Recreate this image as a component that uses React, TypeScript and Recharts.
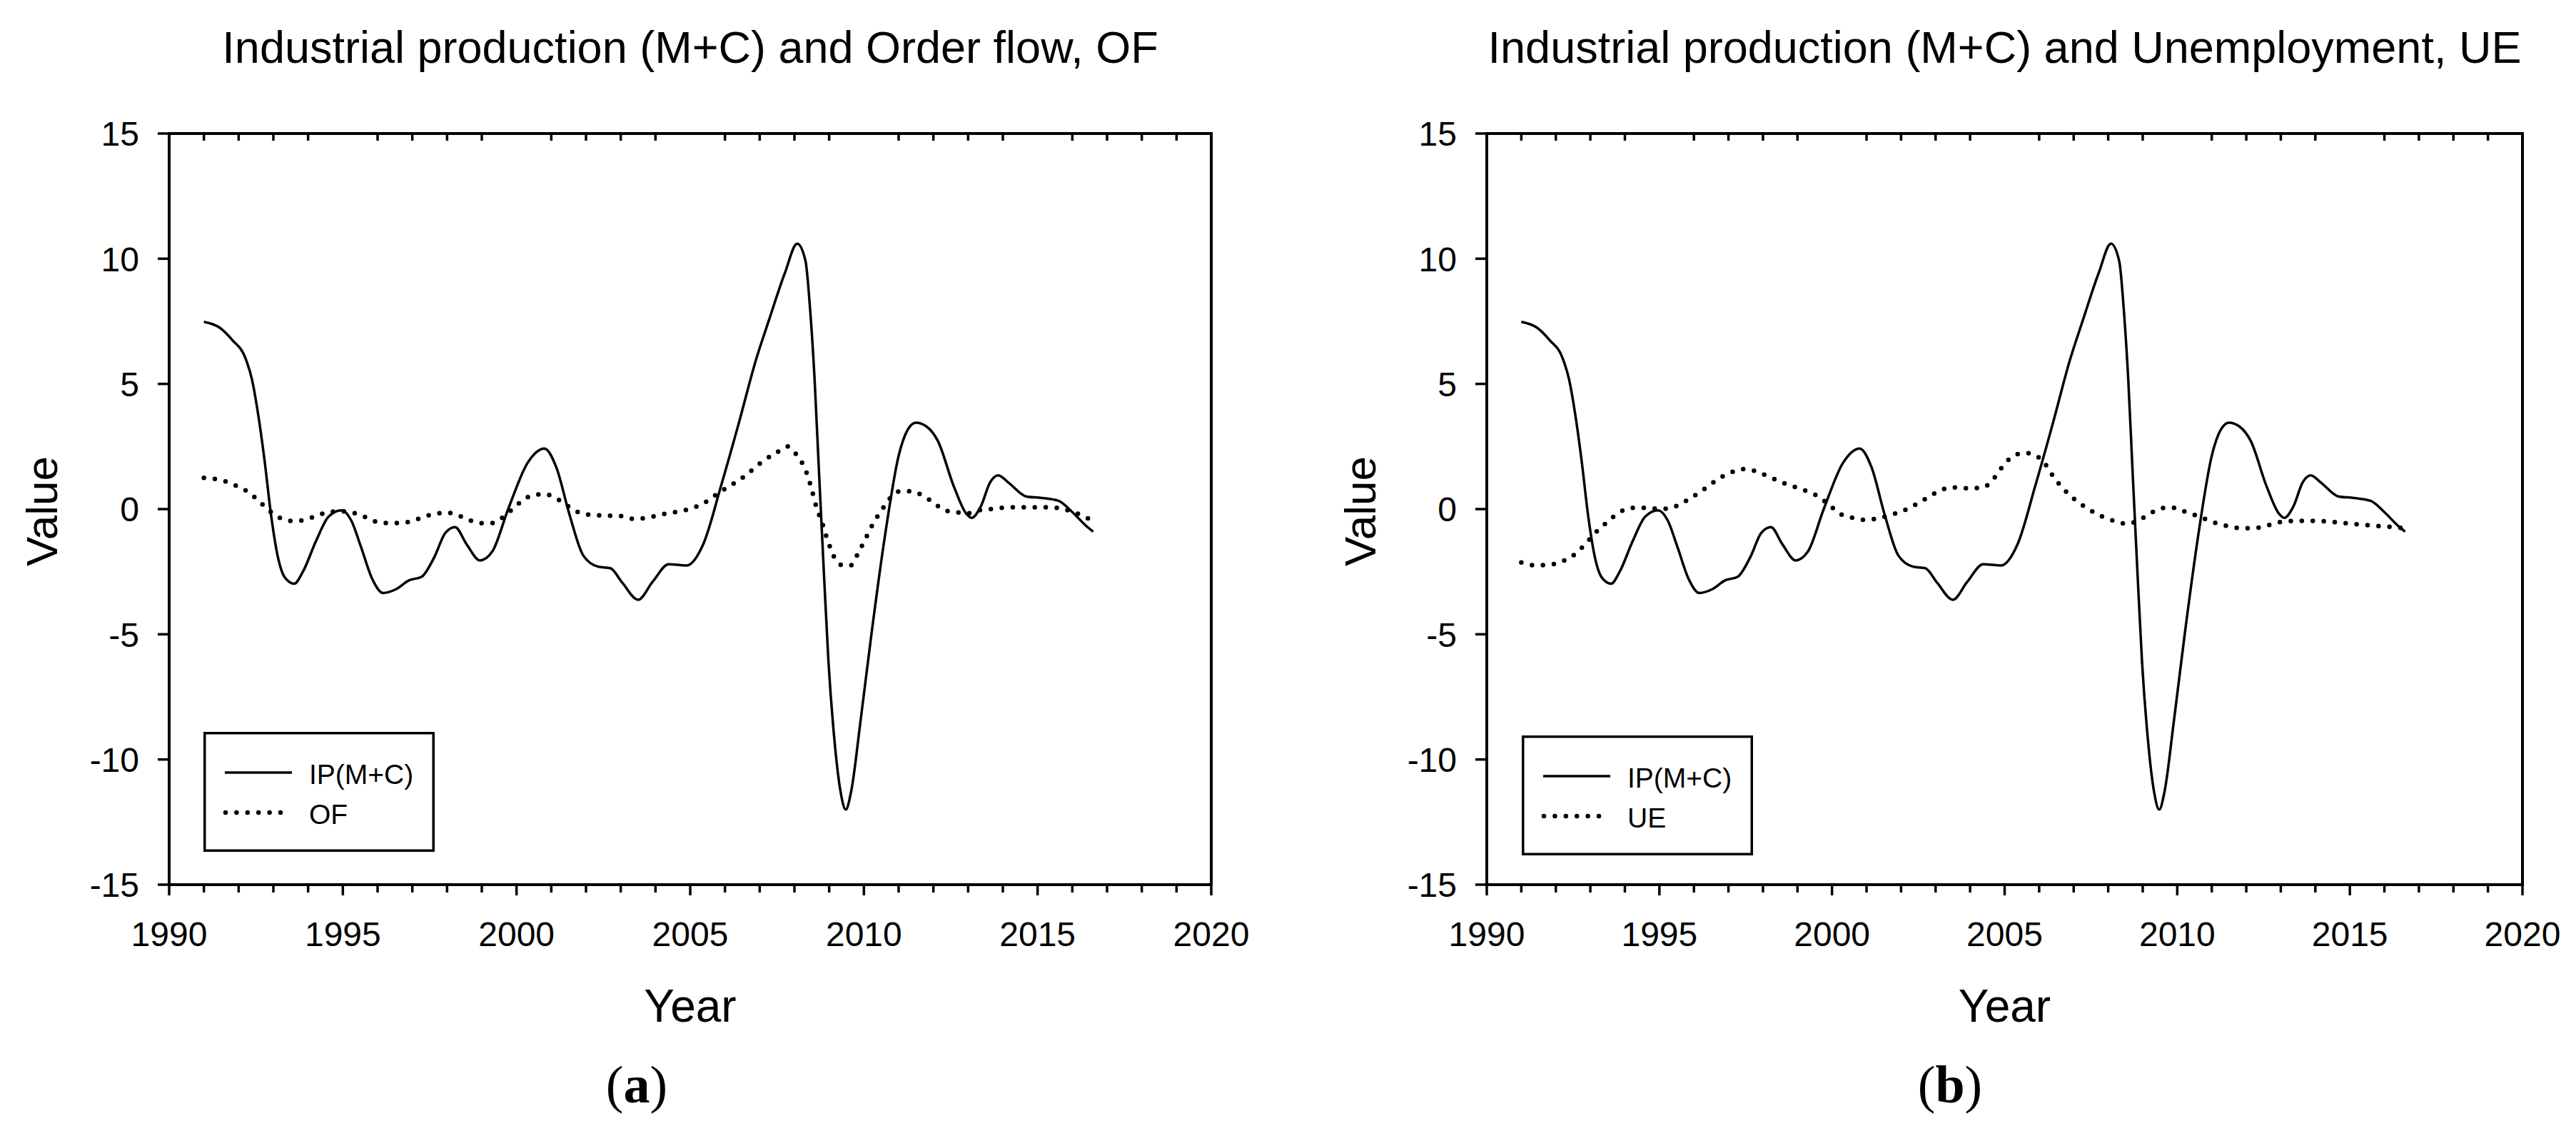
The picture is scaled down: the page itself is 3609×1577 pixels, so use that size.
import React from 'react';
import { LineChart, Line, XAxis, YAxis, Legend } from 'recharts';

const FONT = "'Liberation Sans', Arial, Helvetica, sans-serif";
const SERIF = "'Liberation Serif', 'Times New Roman', serif";

// ---------- data ----------
const yearTicks = [
  1990, 1991, 1992, 1993, 1994, 1995, 1996, 1997, 1998, 1999,
  2000, 2001, 2002, 2003, 2004, 2005, 2006, 2007, 2008, 2009,
  2010, 2011, 2012, 2013, 2014, 2015, 2016, 2017, 2018, 2019, 2020,
];
const valueTicks = [-15, -10, -5, 0, 5, 10, 15];

const titles = [
  'Industrial production (M+C) and Order flow, OF',
  'Industrial production (M+C) and Unemployment, UE',
];
const seriesNames = ['IP(M+C)', 'OF', 'UE'];
const captions = ['a', 'b'];
const xLabel = 'Year';
const yLabel = 'Value';

const ipYears = [
  1991.0, 1991.45, 1991.82, 1992.19, 1992.38, 1992.56, 1992.75, 1992.93, 1993.12, 1993.34,
  1993.6, 1993.85, 1994.22, 1994.59, 1994.96, 1995.24, 1995.52, 1995.85, 1996.16, 1996.53,
  1996.9, 1997.27, 1997.64, 1997.95, 1998.23, 1998.56, 1998.95, 1999.3, 1999.76, 2000.32,
  2000.8, 2001.15, 2001.52, 2001.92, 2002.35, 2002.7, 2003.05, 2003.5, 2003.92, 2004.38,
  2004.9, 2005.37, 2005.89, 2006.42, 2006.88, 2007.27, 2007.73, 2008.08, 2008.32, 2008.45,
  2008.58, 2008.71, 2008.85, 2008.98, 2009.15, 2009.33, 2009.48, 2009.63, 2009.9, 2010.22,
  2010.62, 2011.0, 2011.27, 2011.5, 2011.8, 2012.13, 2012.58, 2012.95, 2013.1, 2013.37,
  2013.63, 2013.87, 2014.16, 2014.68, 2015.08, 2015.6, 2016.0, 2016.39, 2016.6,
];
const ipValues = [
  7.48, 7.25, 6.75, 6.05, 5.2, 3.8, 1.9, -0.2, -1.85, -2.75,
  -2.98, -2.5, -1.3, -0.3, -0.05, -0.45, -1.5, -2.8, -3.35, -3.2,
  -2.85, -2.7, -1.9, -0.95, -0.72, -1.4, -2.05, -1.7, 0.0, 1.85,
  2.42, 1.65, -0.2, -1.85, -2.3, -2.36, -2.95, -3.62, -2.9, -2.2,
  -2.25, -1.42, 0.94, 3.54, 5.9, 7.56, 9.45, 10.6, 9.9, 8.0,
  5.2, 1.4, -2.6, -6.1, -9.2, -11.3, -12.0, -11.3, -8.5, -4.96,
  -0.94, 2.13, 3.19, 3.45, 3.3, 2.72, 0.94, -0.19, -0.35, 0.12,
  1.06, 1.35, 1.06, 0.5, 0.45, 0.33, -0.12, -0.66, -0.9,
];

const ofYears = [
  1991.0, 1991.33, 1991.64, 1991.95, 1992.28, 1992.59, 1992.91, 1993.22, 1993.53, 1993.85,
  1994.18, 1994.5, 1994.82, 1995.12, 1995.44, 1995.75, 1996.07, 1996.39, 1996.71, 1997.03,
  1997.34, 1997.66, 1997.97, 1998.28, 1998.61, 1998.93, 1999.24, 1999.55, 1999.87, 2000.19,
  2000.51, 2000.83, 2001.15, 2001.47, 2001.79, 2002.11, 2002.43, 2003.0, 2003.4, 2003.7,
  2004.3, 2004.97, 2005.3, 2005.89, 2006.55, 2007.14, 2007.47, 2007.8, 2008.06, 2008.25,
  2008.39, 2008.52, 2008.65, 2008.78, 2008.91, 2009.0, 2009.24, 2009.44, 2009.63, 2009.83,
  2010.09, 2010.29, 2010.51, 2010.75, 2011.04, 2011.38, 2011.69, 2012.02, 2012.32, 2012.65,
  2012.98, 2013.31, 2013.64, 2013.96, 2014.29, 2014.69, 2015.21, 2015.54, 2015.87, 2016.17,
  2016.5, 2016.6,
];
const ofValues = [
  1.25, 1.2, 1.1, 0.92, 0.68, 0.31, -0.09, -0.37, -0.47, -0.45,
  -0.3, -0.15, -0.09, -0.09, -0.21, -0.38, -0.55, -0.56, -0.55, -0.46,
  -0.3, -0.19, -0.14, -0.23, -0.42, -0.56, -0.57, -0.38, -0.02, 0.36,
  0.57, 0.59, 0.42, 0.13, -0.13, -0.23, -0.25, -0.28, -0.4, -0.36,
  -0.18, 0.0, 0.17, 0.71, 1.3, 1.96, 2.24, 2.5, 2.17, 1.77,
  1.3, 0.66, 0.0, -0.47, -1.06, -1.42, -2.13, -2.26, -2.24, -1.77,
  -1.06, -0.52, -0.05, 0.43, 0.71, 0.71, 0.54, 0.24, -0.05, -0.12,
  -0.17, -0.05, 0.0, 0.05, 0.07, 0.07, 0.07, 0.05, -0.05, -0.19,
  -0.4, -0.45,
];

const ueYears = [
  1991.0, 1991.36, 1991.73, 1992.1, 1992.47, 1992.84, 1993.15, 1993.49, 1993.85, 1994.22,
  1994.63, 1995.06, 1995.48, 1995.89, 1996.26, 1996.63, 1997.0, 1997.5, 1997.9, 1998.2,
  1998.56, 1999.03, 1999.49, 1999.86, 2000.23, 2000.6, 2000.96, 2001.39, 2001.8, 2002.17,
  2002.63, 2003.09, 2003.46, 2003.92, 2004.38, 2004.66, 2004.94, 2005.21, 2005.58, 2005.86,
  2006.19, 2006.41, 2006.69, 2007.06, 2007.43, 2007.8, 2008.17, 2008.54, 2008.91, 2009.28,
  2009.64, 2009.92, 2010.25, 2010.66, 2011.03, 2011.4, 2011.86, 2012.23, 2012.6, 2012.97,
  2013.43, 2013.98, 2014.54, 2015.09, 2015.65, 2016.2, 2016.57,
];
const ueValues = [
  -2.13, -2.24, -2.24, -2.13, -1.89, -1.42, -0.94, -0.52, -0.12, 0.05,
  0.05, 0.0, 0.12, 0.43, 0.76, 1.13, 1.42, 1.6, 1.45, 1.28,
  1.06, 0.83, 0.59, 0.24, -0.19, -0.35, -0.43, -0.35, -0.19, 0.0,
  0.35, 0.71, 0.87, 0.83, 0.87, 1.18, 1.7, 2.08, 2.24, 2.17,
  1.77, 1.3, 0.83, 0.35, 0.0, -0.28, -0.47, -0.59, -0.43, -0.12,
  0.05, 0.05, -0.12, -0.31, -0.52, -0.66, -0.76, -0.76, -0.66, -0.52,
  -0.47, -0.47, -0.52, -0.59, -0.66, -0.71, -0.76,
];

const zip = (xs: number[], ys: number[]) =>
  xs.slice(0, Math.min(xs.length, ys.length)).map((x, i) => ({ year: x, value: ys[i] }));

const ipData = zip(ipYears, ipValues);
const ofData = zip(ofYears, ofValues);
const ueData = zip(ueYears, ueValues);

// ---------- layout ----------
const H = 1577;
const PLOT_TOP = 187;
const PLOT_BOTTOM = 1239;
const AXW = 120;
const XH = 100;
const TOPH = 20;
const RIGHTW = 20;
const axisStyle: any = { stroke: '#000', strokeWidth: 4, strokeLinecap: 'square' };

function BottomTick(props: any) {
  const { x, y, payload } = props;
  const v = payload.value;
  const major = v % 5 === 0;
  return (
    <g>
      <line x1={x} y1={y} x2={x} y2={y + (major ? 15 : 11)} stroke="#000" strokeWidth={3.5} />
      {major && (
        <text x={x} y={y + 86} textAnchor="middle" fontSize={48} fontFamily={FONT} fill="#000">
          {v}
        </text>
      )}
    </g>
  );
}

function TopTick(props: any) {
  const { x, y, payload } = props;
  if (payload.value % 5 === 0) return <g />;
  return <line x1={x} y1={y} x2={x} y2={y + 10} stroke="#000" strokeWidth={3.5} />;
}

function LeftTick(props: any) {
  const { x, y, payload } = props;
  return (
    <g>
      <line x1={x - 16} y1={y} x2={x} y2={y} stroke="#000" strokeWidth={3.5} />
      <text x={x - 42} y={y} dy="0.36em" textAnchor="end" fontSize={48} fontFamily={FONT} fill="#000">
        {payload.value}
      </text>
    </g>
  );
}

const LegendBox = (props: any) => {
  const payload = (props.payload || []).filter((e: any) => seriesNames.indexOf(e.value) >= 0);
  return (
    <svg width={324} height={168} style={{ display: 'block' }}>
      <rect x={1.75} y={1.75} width={320.5} height={164.5} fill="#fff" stroke="#000" strokeWidth={3.5} />
      {payload.map((e: any, i: number) => {
        const cy = 57 + i * 56;
        const dotted = e.value !== seriesNames[0];
        return (
          <g key={i}>
            <line
              x1={dotted ? 31 : 30}
              x2={dotted ? 108 : 124}
              y1={cy}
              y2={cy}
              stroke="#000"
              strokeWidth={dotted ? 6.5 : 3.5}
              strokeDasharray={dotted ? '0 15.4' : undefined}
              strokeLinecap={dotted ? 'round' : 'butt'}
            />
            <text x={148} y={cy + 15.5} fontSize={39} fontFamily={FONT} fill="#000">
              {e.value}
            </text>
          </g>
        );
      })}
    </svg>
  );
};

type PanelProps = {
  left: number;
  width: number;
  plotLeft: number;
  plotRight: number;
  title: string;
  name2: string;
  data2: { year: number; value: number }[];
  legendX: number;
  legendY: number;
  caption: string;
  captionX: number;
  valueX: number;
};

function Panel(p: PanelProps) {
  const margin = {
    top: PLOT_TOP - TOPH,
    left: p.plotLeft - AXW,
    right: p.width - p.plotRight - RIGHTW,
    bottom: H - PLOT_BOTTOM - XH,
  };
  const cx = (p.plotLeft + p.plotRight) / 2;
  const cy = (PLOT_TOP + PLOT_BOTTOM) / 2 + 3;
  return (
    <div style={{ position: 'absolute', left: p.left, top: 0, width: p.width, height: H }}>
      <LineChart width={p.width} height={H} margin={margin}>
        <XAxis
          xAxisId="bottom"
          dataKey="year"
          type="number"
          domain={[1990, 2020]}
          ticks={yearTicks}
          interval={0}
          tickSize={0}
          tickMargin={0}
          tickLine={false}
          tick={(t: any) => <BottomTick {...t} />}
          axisLine={axisStyle}
          height={XH}
          allowDataOverflow
          label={{
            content: () => (
              <text x={cx} y={1431} textAnchor="middle" fontSize={64} fontFamily={FONT} fill="#000">
                {xLabel}
              </text>
            ),
          }}
        />
        <XAxis
          xAxisId="top"
          orientation="top"
          dataKey="year"
          type="number"
          domain={[1990, 2020]}
          ticks={yearTicks}
          interval={0}
          tickSize={0}
          tickMargin={0}
          tickLine={false}
          tick={(t: any) => <TopTick {...t} />}
          axisLine={axisStyle}
          height={TOPH}
          allowDataOverflow
          label={{
            content: () => (
              <text x={cx} y={88} textAnchor="middle" fontSize={63} fontFamily={FONT} fill="#000">
                {p.title}
              </text>
            ),
          }}
        />
        <YAxis
          yAxisId="left"
          type="number"
          domain={[-15, 15]}
          ticks={valueTicks}
          interval={0}
          tickSize={0}
          tickMargin={0}
          tickLine={false}
          tick={(t: any) => <LeftTick {...t} />}
          axisLine={axisStyle}
          width={AXW}
          allowDataOverflow
          label={{
            content: () => (
              <text
                x={p.valueX}
                y={cy}
                transform={`rotate(-90 ${p.valueX} ${cy})`}
                textAnchor="middle"
                fontSize={62}
                fontFamily={FONT}
                fill="#000"
              >
                {yLabel}
              </text>
            ),
          }}
        />
        <YAxis
          yAxisId="right"
          orientation="right"
          type="number"
          domain={[-15, 15]}
          ticks={valueTicks}
          tick={false}
          tickLine={false}
          axisLine={axisStyle}
          width={RIGHTW}
          allowDataOverflow
        />
        <Legend
          layout="horizontal"
          verticalAlign="middle"
          align="center"
          wrapperStyle={{ position: 'absolute', left: p.legendX, top: p.legendY, width: 324, height: 168 }}
          content={(lp: any) => <LegendBox {...lp} />}
        />
        <Line
          xAxisId="bottom"
          yAxisId="left"
          data={ipData}
          dataKey="value"
          name={seriesNames[0]}
          type="monotone"
          stroke="#000"
          strokeWidth={3.5}
          dot={false}
          activeDot={false}
          isAnimationActive={false}
        />
        <Line
          xAxisId="bottom"
          yAxisId="right"
          data={p.data2}
          dataKey="value"
          name={p.name2}
          type="monotone"
          stroke="#000"
          strokeWidth={6.5}
          strokeDasharray="0 15.4"
          strokeLinecap="round"
          dot={false}
          activeDot={false}
          isAnimationActive={false}
        />
        <Line
          xAxisId="top"
          yAxisId="right"
          data={[]}
          dataKey="value"
          name="axis-anchor"
          legendType="none"
          stroke="none"
          dot={false}
          activeDot={false}
          isAnimationActive={false}
        />
      </LineChart>
      <svg
        style={{ position: 'absolute', left: 0, top: 1440, pointerEvents: 'none' }}
        width={p.width}
        height={137}
      >
        <text x={p.captionX} y={1544 - 1440} textAnchor="middle" fontSize={74} fontFamily={SERIF} fill="#000">
          (<tspan fontWeight="bold">{p.caption}</tspan>)
        </text>
      </svg>
    </div>
  );
}

export default function App() {
  return (
    <div
      style={{
        position: 'absolute',
        left: 0,
        top: 0,
        width: 3609,
        height: H,
        background: '#fff',
        overflow: 'hidden',
      }}
    >
      <Panel
        left={0}
        width={1800}
        plotLeft={237}
        plotRight={1697}
        title={titles[0]}
        name2={seriesNames[1]}
        data2={ofData}
        legendX={285}
        legendY={1025}
        caption={captions[0]}
        captionX={892}
        valueX={80}
      />
      <Panel
        left={1800}
        width={1809}
        plotLeft={283}
        plotRight={1734}
        title={titles[1]}
        name2={seriesNames[2]}
        data2={ueData}
        legendX={332}
        legendY={1030}
        caption={captions[1]}
        captionX={932}
        valueX={127}
      />
    </div>
  );
}
